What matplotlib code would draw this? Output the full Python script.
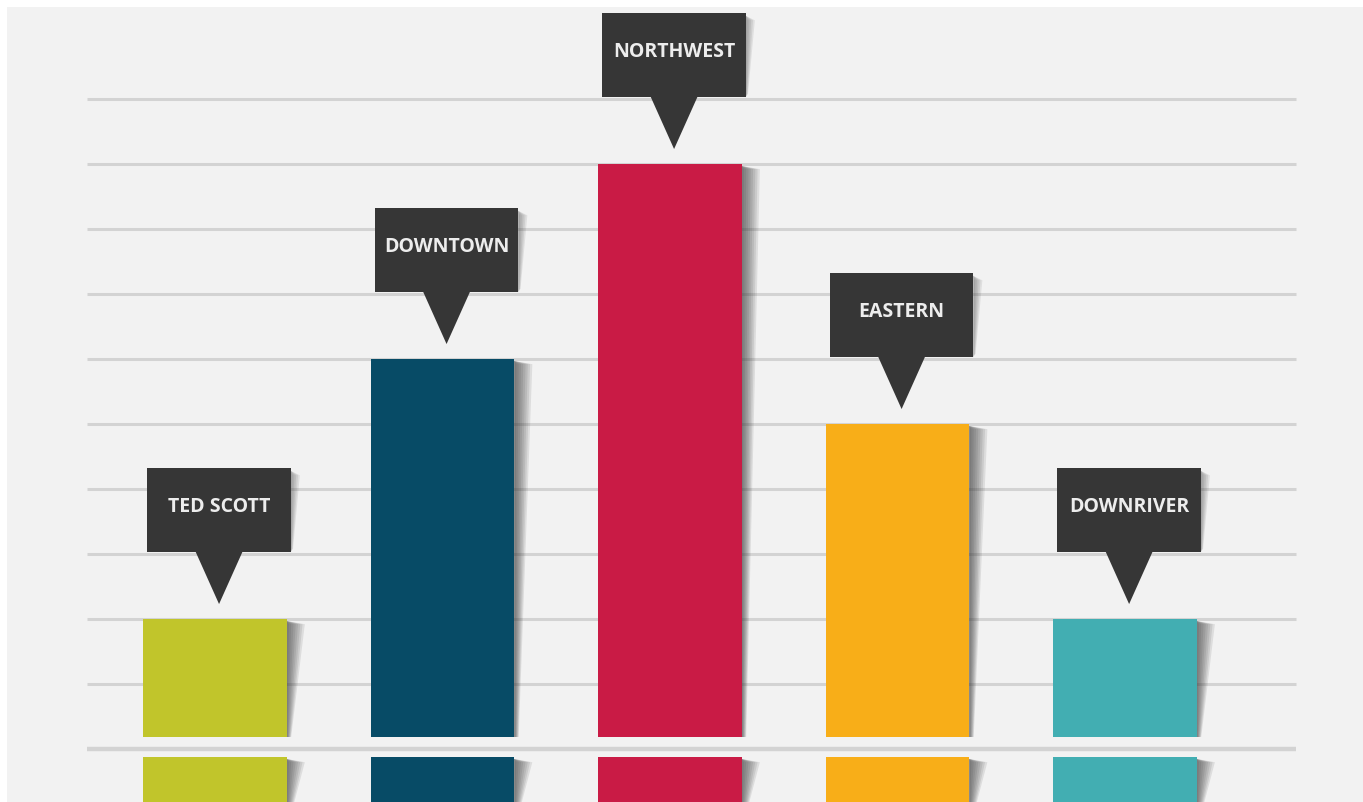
import matplotlib.pyplot as plt
from matplotlib.patches import Polygon, Rectangle

# data
categories = ["TED SCOTT", "DOWNTOWN", "NORTHWEST", "EASTERN", "DOWNRIVER"]
values = [2, 6, 9, 5, 2]
colors = ["#c1c52b", "#074b66", "#c91b45", "#f8ae18", "#42aeb2"]
grid_levels = list(range(0, 11))

bg = "#f2f2f2"
grid_col = "#d3d3d3"
box_col = "#363636"

fig = plt.figure(figsize=(13.63, 8.02), dpi=100, facecolor="white")
ax = fig.add_axes([7 / 1363, 0, 1356 / 1363, 795 / 802])
ax.set_facecolor(bg)

# 1 unit = 65 px vertically, 227.5 px horizontally
ax.set_xlim(-0.914, 5.046)
ax.set_ylim(-0.815, 11.415)
ax.axis("off")
ax.add_patch(Rectangle((0, 0), 1, 1, transform=ax.transAxes, color=bg, zorder=0))

# grid lines
for g in grid_levels:
    lw = 3.2 if g == 0 else 2.2
    ax.hlines(g, -0.563, 4.752, color=grid_col, lw=lw, zorder=1)

x = list(range(len(categories)))
w = 0.63
gap_top = 0.185     # upper bar start
gap_bot = -0.123    # lower bar end

# upper bars
ax.bar(x, [v - gap_top for v in values], bottom=gap_top, width=w,
       color=colors, zorder=3)
# lower bars (below the break)
ax.bar(x, [gap_bot + 1.0] * len(x), bottom=-1.0, width=w,
       color=colors, zorder=3)


def shadow(xr, top, bot, zo, dx=0.08, dy=0.08):
    # soft slanted shadow on the right side
    for k in range(8):
        f = 1 - k / 8
        pts = [(xr, top - 0.03), (xr + dx * f, top - dy), (xr + 0.02 * f, bot), (xr, bot)]
        ax.add_patch(Polygon(pts, closed=True, color="#333333", alpha=0.11,
                             lw=0, zorder=zo))


for xi, v in zip(x, values):
    xr = xi + w / 2
    shadow(xr, v, gap_top, 2)
    shadow(xr, gap_bot, -1.0, 2)

# label callouts
tip_gap = 0.23
tri_h = 0.8
tri_w = 0.21
box_h = 1.3
for xi, v, name in zip(x, values, categories):
    tip = v + tip_gap
    base = tip + tri_h
    cx = xi + 0.018
    ax.add_patch(Polygon([(cx - tri_w / 2, base + 0.02), (cx + tri_w / 2, base + 0.02), (cx, tip)],
                         closed=True, color=box_col, lw=0, zorder=5))
    # box shadow
    for k in range(5):
        f = 1 - k / 5
        ax.add_patch(Polygon([(cx + w / 2, base + box_h - 0.05),
                              (cx + w / 2 + 0.04 * f, base + box_h - 0.12),
                              (cx + w / 2 + 0.01 * f, base + 0.05),
                              (cx + w / 2, base)],
                             closed=True, color="#3a3a3a", alpha=0.1, lw=0, zorder=4))
    ax.add_patch(Rectangle((cx - w / 2, base), w, box_h, color=box_col, lw=0, zorder=5))
    ax.text(cx, base + box_h / 2 + 0.05, name, color="#ededed", ha="center", va="center",
            fontsize=14, fontweight="bold", family="Open Sans", zorder=6)

fig.savefig("out.png", dpi=100, facecolor="white")
